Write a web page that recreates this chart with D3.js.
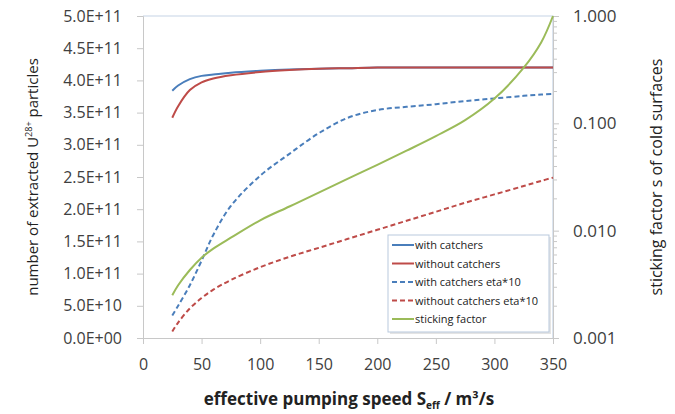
<!DOCTYPE html>
<html>
<head>
<meta charset="utf-8">
<script src="https://cdn.jsdelivr.net/npm/d3@7"></script>
<style>
  body { margin: 0; background: #fff; }
  text { font-family: "Open Sans", Lato, sans-serif; }
</style>
</head>
<body>
<svg id="chart" width="675" height="414"></svg>
<script>
// pumping speed S_eff (m3/s)
var speeds = [25, 30, 40, 50, 60, 75, 100, 125, 150, 175, 200, 225, 250, 275, 300, 325, 340, 350];
// extracted particles (left axis)
var withCatchers    = [3.84e11, 3.92e11, 4.02e11, 4.07e11, 4.09e11, 4.12e11, 4.15e11, 4.17e11, 4.18e11, 4.19e11, 4.2e11, 4.2e11, 4.2e11, 4.2e11, 4.2e11, 4.2e11, 4.2e11, 4.2e11];
var withoutCatchers = [3.42e11, 3.6e11, 3.85e11, 3.97e11, 4.03e11, 4.08e11, 4.13e11, 4.16e11, 4.18e11, 4.19e11, 4.2e11, 4.2e11, 4.2e11, 4.2e11, 4.2e11, 4.2e11, 4.2e11, 4.2e11];
var withCatchersEta    = [0.35e11, 0.5e11, 0.82e11, 1.2e11, 1.6e11, 2.05e11, 2.52e11, 2.86e11, 3.18e11, 3.42e11, 3.54e11, 3.59e11, 3.63e11, 3.68e11, 3.72e11, 3.76e11, 3.78e11, 3.79e11];
var withoutCatchersEta = [0.1e11, 0.24e11, 0.46e11, 0.62e11, 0.75e11, 0.9e11, 1.1e11, 1.26e11, 1.4e11, 1.54e11, 1.68e11, 1.82e11, 1.96e11, 2.1e11, 2.23e11, 2.36e11, 2.44e11, 2.49e11];
// sticking factor (right axis, log)
var stickingFactor = [0.0025, 0.0031, 0.0043, 0.0056, 0.0068, 0.0086, 0.0125, 0.0168, 0.0226, 0.0305, 0.041, 0.0556, 0.076, 0.107, 0.17, 0.33, 0.57, 1.0];

var xTicks = [0, 50, 100, 150, 200, 250, 300, 350];
var leftTicks = d3.range(0, 5.01e11, 0.5e11);
var rightTicks = [0.001, 0.01, 0.1, 1];

var svg = d3.select("#chart");
var plotL = 143, plotR = 553, plotT = 16, plotB = 338;

var x = d3.scaleLinear().domain([0, 350]).range([plotL, plotR]);
var yL = d3.scaleLinear().domain([0, 5e11]).range([plotB, plotT]);
var yR = d3.scaleLog().domain([0.001, 1]).range([plotB, plotT]);

function sci(v) {
    var p = v.toExponential(1).toUpperCase().split("E");
    var e = parseInt(p[1]);
    return p[0] + "E" + (e < 0 ? "-" : "+") + String(Math.abs(e)).padStart(2, "0");
}

// plot frame (top + right)
svg.append("path")
    .attr("d", "M" + plotL + "," + plotT + "H" + plotR + "V" + plotB)
    .attr("fill", "none")
    .attr("stroke", "#c6d4e6")
    .attr("stroke-width", 1.2);

// left axis
var gl = svg.append("g").attr("transform", "translate(" + plotL + ",0)")
    .call(d3.axisLeft(yL).tickValues(leftTicks).tickFormat(sci).tickSize(6).tickPadding(15));
// bottom axis
var gb = svg.append("g").attr("transform", "translate(0," + plotB + ")")
    .call(d3.axisBottom(x).tickValues(xTicks).tickSize(6).tickPadding(15).tickSizeOuter(0));
// right axis with minor ticks
var minor = [];
[0.001, 0.01, 0.1].forEach(function(d) { for (var k = 2; k < 10; k++) minor.push(d * k); });
svg.append("g").attr("transform", "translate(" + plotR + ",0)")
    .call(d3.axisRight(yR).tickValues(minor).tickSize(4).tickFormat(""))
    .call(g => g.select(".domain").remove());
var gr = svg.append("g").attr("transform", "translate(" + plotR + ",0)")
    .call(d3.axisRight(yR).tickValues(rightTicks).tickFormat(d3.format(".3f")).tickSize(6).tickPadding(14));

[gl, gb, gr].forEach(function(g) {
    g.selectAll("text").style("font-size", "16px").attr("fill", "#404040");
    g.select(".domain").attr("stroke", "#c8c8c8");
});
gr.selectAll("text").style("font-size", "17px");
svg.selectAll(".tick line").attr("stroke", "#c8c8c8");

// series
var lineL = d3.line().x((d, i) => x(speeds[i])).y(d => yL(d)).curve(d3.curveCatmullRom.alpha(0.5));
var lineR = d3.line().x((d, i) => x(speeds[i])).y(d => yR(d)).curve(d3.curveCatmullRom.alpha(0.5));

var series = [
    { name: "with catchers", values: withCatchers, color: "#4a7ebb", dash: null, line: lineL },
    { name: "without catchers", values: withoutCatchers, color: "#be4b48", dash: null, line: lineL },
    { name: "with catchers eta*10", values: withCatchersEta, color: "#4a7ebb", dash: "5,3", line: lineL },
    { name: "without catchers eta*10", values: withoutCatchersEta, color: "#be4b48", dash: "5,3", line: lineL },
    { name: "sticking factor", values: stickingFactor, color: "#9bbb59", dash: null, line: lineR }
];

series.forEach(function(s) {
    svg.append("path")
        .attr("d", s.line(s.values))
        .attr("fill", "none")
        .attr("stroke", s.color)
        .attr("stroke-width", 2)
        .attr("stroke-dasharray", s.dash);
});

// legend
var lg = svg.append("g").attr("transform", "translate(388,235)");
lg.append("rect").attr("x", 2).attr("y", 2).attr("width", 161).attr("height", 97).attr("fill", "#e4e4e4");
lg.append("rect").attr("width", 161).attr("height", 97).attr("fill", "#fff").attr("stroke", "#b9c9dd");
series.forEach(function(s, i) {
    var yy = 10 + i * 18.5;
    lg.append("line").attr("x1", 4).attr("x2", 26).attr("y1", yy).attr("y2", yy)
        .attr("stroke", s.color).attr("stroke-width", 2).attr("stroke-dasharray", s.dash);
    lg.append("text").attr("x", 27).attr("y", yy + 4).style("font-size", "11px").attr("fill", "#222").text(s.name);
});

// axis titles
var tl = svg.append("text")
    .attr("transform", "translate(38,177) rotate(-90)")
    .attr("text-anchor", "middle")
    .style("font-size", "15px").attr("fill", "#222");
tl.append("tspan").text("number of extracted U");
tl.append("tspan").attr("dy", -6).style("font-size", "9px").text("28+");
tl.append("tspan").attr("dy", 6).text(" particles");

svg.append("text")
    .attr("transform", "translate(662,177) rotate(-90)")
    .attr("text-anchor", "middle")
    .style("font-size", "16px").attr("fill", "#222")
    .text("sticking factor s of cold surfaces");

var tb = svg.append("text")
    .attr("x", 349).attr("y", 405)
    .attr("text-anchor", "middle")
    .style("font-size", "17px").style("font-weight", "bold").attr("fill", "#222");
tb.append("tspan").text("effective pumping speed S");
tb.append("tspan").attr("dy", 4).style("font-size", "10px").text("eff");
tb.append("tspan").attr("dy", -4).text(" / m\u00b3/s");
</script>
</body>
</html>
